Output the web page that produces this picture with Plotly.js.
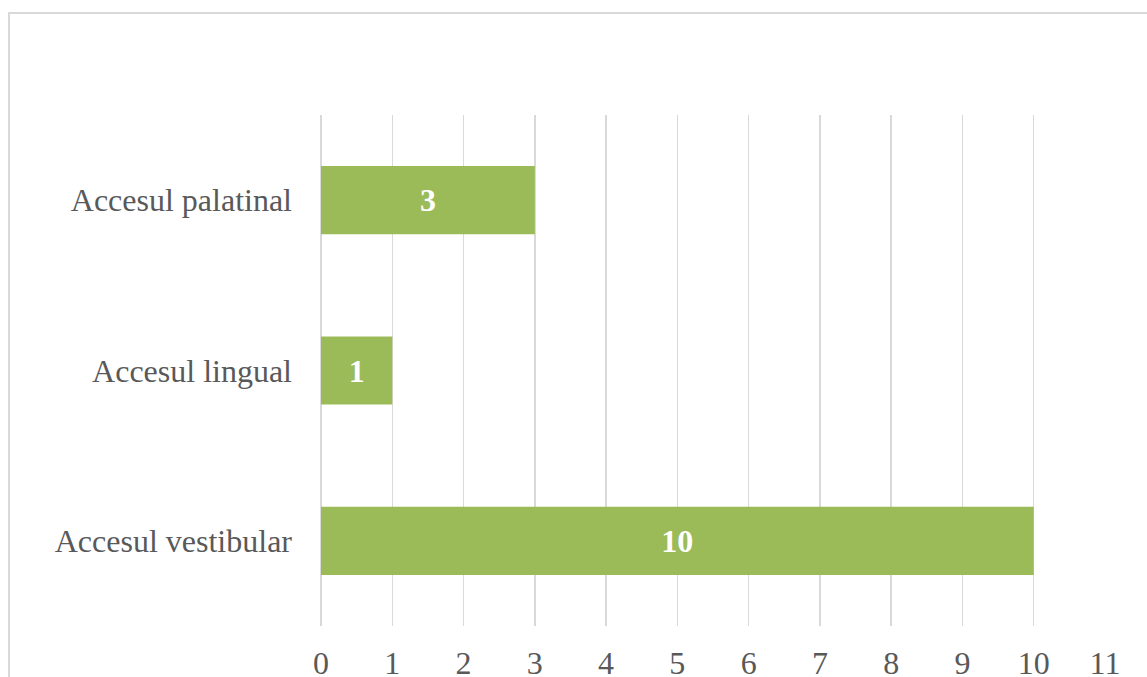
<!DOCTYPE html>
<html><head><meta charset="utf-8">
<script src="https://cdn.plot.ly/plotly-3.0.1.min.js"></script>
<style>html,body{margin:0;padding:0;background:#fff}#chart{width:1147px;height:677px}</style>
</head><body><div id="chart"></div>
<script>
const categories = ["Accesul vestibular", "Accesul lingual", "Accesul palatinal"];
const values = [10, 1, 3];
const tickValues = [0,1,2,3,4,5,6,7,8,9,10,11];

const L = 321, R = 1105, T = 115, B = 626, W = 1147, H = 677;
const px = x => (x - L) / (R - L);
const py = y => (B - y) / (B - T);

Plotly.newPlot('chart', [{
  type: 'bar', orientation: 'h',
  y: categories, x: values,
  marker: {color: '#9BBB59'},
  width: 0.4,
  text: values.map(String), textposition: 'inside', insidetextanchor: 'middle',
  textfont: {family: 'Liberation Serif', size: 32, color: '#ffffff', weight: 'bold'},
  hoverinfo: 'none'
}], {
  width: W, height: H,
  margin: {l: L, r: W - R, t: T, b: H - B, pad: 0},
  paper_bgcolor: '#ffffff', plot_bgcolor: '#ffffff',
  showlegend: false,
  font: {family: 'Liberation Serif', color: '#595959'},
  xaxis: {range: [0, 11], tickvals: tickValues, ticktext: tickValues.map(String),
    showgrid: true, gridcolor: '#D9D9D9', gridwidth: 1.5,
    zeroline: true, zerolinecolor: '#D9D9D9', zerolinewidth: 1.5, showline: false,
    ticks: '', ticklabelstandoff: 15, tickfont: {size: 32, color: '#595959'}, fixedrange: true},
  yaxis: {range: [-0.5, 2.5], showgrid: false, zeroline: false, showline: false,
    ticks: '', ticklabelstandoff: 28, tickfont: {size: 32, color: '#595959'}, fixedrange: true},
  shapes: [{type: 'rect', xref: 'paper', yref: 'paper',
    x0: px(9), x1: px(1200), y0: py(740), y1: py(13),
    line: {color: '#D9D9D9', width: 2}, fillcolor: 'rgba(0,0,0,0)'}]
}, {displayModeBar: false, staticPlot: true});
</script></body></html>
